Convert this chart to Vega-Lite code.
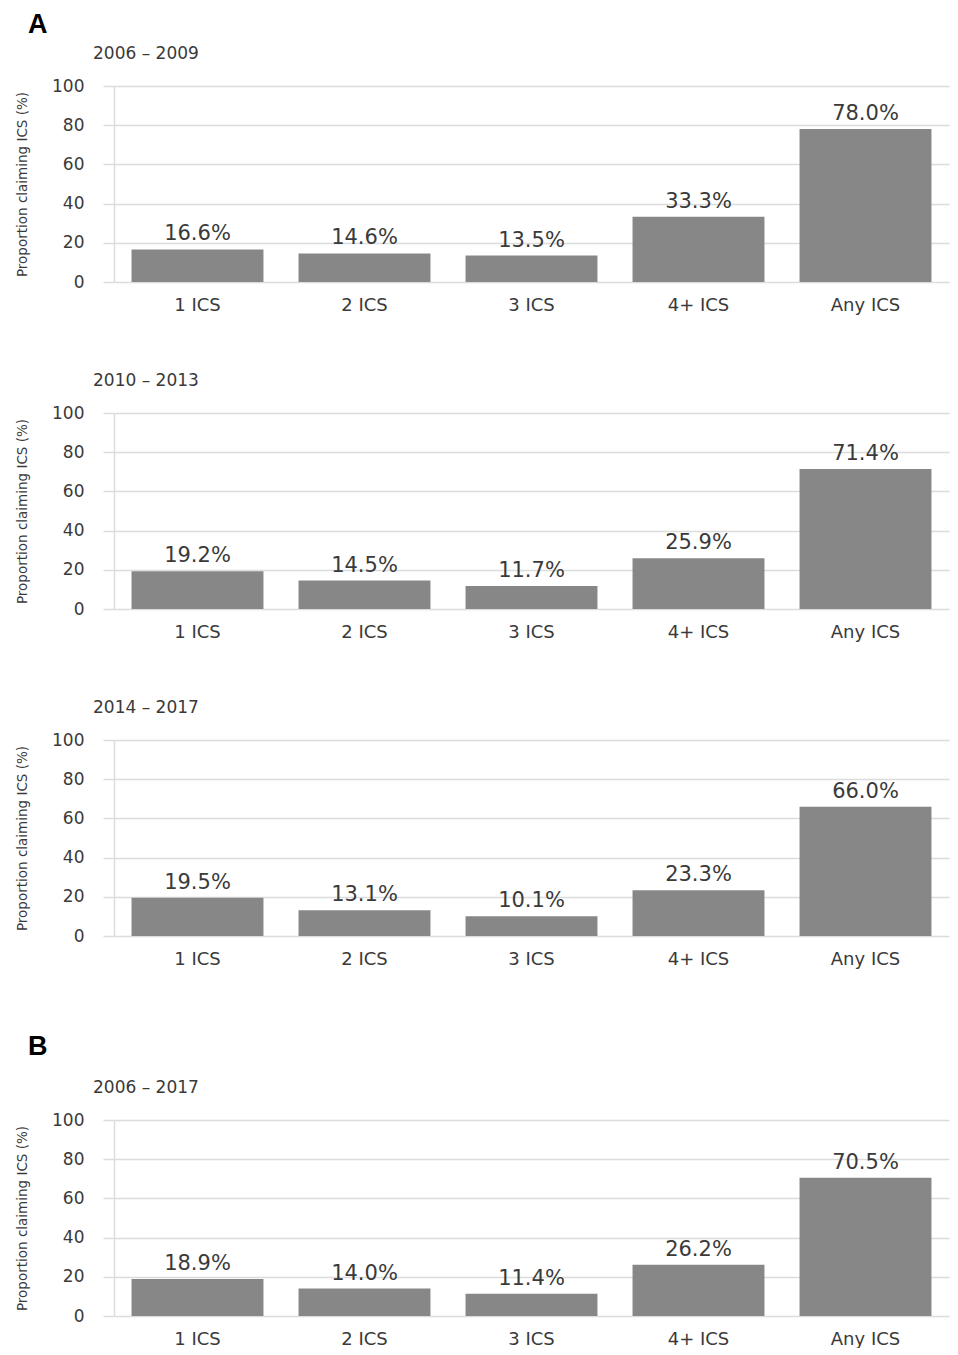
{
  "$schema": "https://vega.github.io/schema/vega-lite/v6.json",
  "padding": {"left": 15, "top": 11, "right": 5, "bottom": 0},
  "background": "white",
  "data": {"values": [
    {"period": "2006 – 2009", "cat": "1 ICS", "value": 16.6, "label": "16.6%"},
    {"period": "2006 – 2009", "cat": "2 ICS", "value": 14.6, "label": "14.6%"},
    {"period": "2006 – 2009", "cat": "3 ICS", "value": 13.5, "label": "13.5%"},
    {"period": "2006 – 2009", "cat": "4+ ICS", "value": 33.3, "label": "33.3%"},
    {"period": "2006 – 2009", "cat": "Any ICS", "value": 78.0, "label": "78.0%"},
    {"period": "2010 – 2013", "cat": "1 ICS", "value": 19.2, "label": "19.2%"},
    {"period": "2010 – 2013", "cat": "2 ICS", "value": 14.5, "label": "14.5%"},
    {"period": "2010 – 2013", "cat": "3 ICS", "value": 11.7, "label": "11.7%"},
    {"period": "2010 – 2013", "cat": "4+ ICS", "value": 25.9, "label": "25.9%"},
    {"period": "2010 – 2013", "cat": "Any ICS", "value": 71.4, "label": "71.4%"},
    {"period": "2014 – 2017", "cat": "1 ICS", "value": 19.5, "label": "19.5%"},
    {"period": "2014 – 2017", "cat": "2 ICS", "value": 13.1, "label": "13.1%"},
    {"period": "2014 – 2017", "cat": "3 ICS", "value": 10.1, "label": "10.1%"},
    {"period": "2014 – 2017", "cat": "4+ ICS", "value": 23.3, "label": "23.3%"},
    {"period": "2014 – 2017", "cat": "Any ICS", "value": 66.0, "label": "66.0%"},
    {"period": "2006 – 2017", "cat": "1 ICS", "value": 18.9, "label": "18.9%"},
    {"period": "2006 – 2017", "cat": "2 ICS", "value": 14.0, "label": "14.0%"},
    {"period": "2006 – 2017", "cat": "3 ICS", "value": 11.4, "label": "11.4%"},
    {"period": "2006 – 2017", "cat": "4+ ICS", "value": 26.2, "label": "26.2%"},
    {"period": "2006 – 2017", "cat": "Any ICS", "value": 70.5, "label": "70.5%"}
  ]},
  "config": {
    "font": "DejaVu Sans",
    "view": {"stroke": null},
    "axis": {
      "labelColor": "#3a3a3a",
      "titleColor": "#3a3a3a",
      "gridColor": "#dcdcdc",
      "gridWidth": 1.5,
      "tickColor": "#dcdcdc",
      "tickWidth": 1.5,
      "domainColor": "#dcdcdc",
      "domainWidth": 1.5
    },
    "title": {"anchor": "start", "color": "#3a3a3a", "fontWeight": "normal", "fontSize": 17, "frame": "group"}
  },
  "spacing": 65,
  "vconcat": [
    {
      "title": {"text": "A", "font": "Liberation Sans", "fontSize": 27, "fontWeight": "bold", "color": "#000000", "dx": -86, "offset": 6},
      "spacing": 58,
      "vconcat": [
        {
          "title": {"text": "2006 – 2009", "dx": -21, "offset": 14},
          "width": 835, "height": 196,
          "transform": [{"filter": "datum.period === '2006 – 2009'"}],
          "encoding": {
            "x": {"field": "cat", "type": "nominal", "sort": null, "scale": {"paddingInner": 0.21, "paddingOuter": 0.105},
                  "axis": {"title": null, "labelAngle": 0, "labelFontSize": 18, "labelPadding": 14, "ticks": false, "domain": false}},
            "y": {"field": "value", "type": "quantitative", "scale": {"domain": [0, 100]},
                  "axis": {"title": "Proportion claiming ICS (%)", "titleFontSize": 13.5, "titleFontWeight": "normal", "titlePadding": 22, "values": [0, 20, 40, 60, 80, 100], "labelFontSize": 17, "tickSize": 11, "labelPadding": 19, "domain": true}}
          },
          "layer": [
            {"mark": {"type": "bar", "color": "#878787"}},
            {"mark": {"type": "text", "baseline": "bottom", "dy": -5, "fontSize": 21, "color": "#3a3a3a"}, "encoding": {"text": {"field": "label"}}}
          ]
        },
        {
          "title": {"text": "2010 – 2013", "dx": -21, "offset": 14},
          "width": 835, "height": 196,
          "transform": [{"filter": "datum.period === '2010 – 2013'"}],
          "encoding": {
            "x": {"field": "cat", "type": "nominal", "sort": null, "scale": {"paddingInner": 0.21, "paddingOuter": 0.105},
                  "axis": {"title": null, "labelAngle": 0, "labelFontSize": 18, "labelPadding": 14, "ticks": false, "domain": false}},
            "y": {"field": "value", "type": "quantitative", "scale": {"domain": [0, 100]},
                  "axis": {"title": "Proportion claiming ICS (%)", "titleFontSize": 13.5, "titleFontWeight": "normal", "titlePadding": 22, "values": [0, 20, 40, 60, 80, 100], "labelFontSize": 17, "tickSize": 11, "labelPadding": 19, "domain": true}}
          },
          "layer": [
            {"mark": {"type": "bar", "color": "#878787"}},
            {"mark": {"type": "text", "baseline": "bottom", "dy": -5, "fontSize": 21, "color": "#3a3a3a"}, "encoding": {"text": {"field": "label"}}}
          ]
        },
        {
          "title": {"text": "2014 – 2017", "dx": -21, "offset": 14},
          "width": 835, "height": 196,
          "transform": [{"filter": "datum.period === '2014 – 2017'"}],
          "encoding": {
            "x": {"field": "cat", "type": "nominal", "sort": null, "scale": {"paddingInner": 0.21, "paddingOuter": 0.105},
                  "axis": {"title": null, "labelAngle": 0, "labelFontSize": 18, "labelPadding": 14, "ticks": false, "domain": false}},
            "y": {"field": "value", "type": "quantitative", "scale": {"domain": [0, 100]},
                  "axis": {"title": "Proportion claiming ICS (%)", "titleFontSize": 13.5, "titleFontWeight": "normal", "titlePadding": 22, "values": [0, 20, 40, 60, 80, 100], "labelFontSize": 17, "tickSize": 11, "labelPadding": 19, "domain": true}}
          },
          "layer": [
            {"mark": {"type": "bar", "color": "#878787"}},
            {"mark": {"type": "text", "baseline": "bottom", "dy": -5, "fontSize": 21, "color": "#3a3a3a"}, "encoding": {"text": {"field": "label"}}}
          ]
        }
      ]
    },
    {
      "title": {"text": "B", "font": "Liberation Sans", "fontSize": 27, "fontWeight": "bold", "color": "#000000", "dx": -86, "offset": 18},
      "vconcat": [
        {
          "title": {"text": "2006 – 2017", "dx": -21, "offset": 14},
          "width": 835, "height": 196,
          "transform": [{"filter": "datum.period === '2006 – 2017'"}],
          "encoding": {
            "x": {"field": "cat", "type": "nominal", "sort": null, "scale": {"paddingInner": 0.21, "paddingOuter": 0.105},
                  "axis": {"title": null, "labelAngle": 0, "labelFontSize": 18, "labelPadding": 14, "ticks": false, "domain": false}},
            "y": {"field": "value", "type": "quantitative", "scale": {"domain": [0, 100]},
                  "axis": {"title": "Proportion claiming ICS (%)", "titleFontSize": 13.5, "titleFontWeight": "normal", "titlePadding": 22, "values": [0, 20, 40, 60, 80, 100], "labelFontSize": 17, "tickSize": 11, "labelPadding": 19, "domain": true}}
          },
          "layer": [
            {"mark": {"type": "bar", "color": "#878787"}},
            {"mark": {"type": "text", "baseline": "bottom", "dy": -5, "fontSize": 21, "color": "#3a3a3a"}, "encoding": {"text": {"field": "label"}}}
          ]
        }
      ]
    }
  ]
}
